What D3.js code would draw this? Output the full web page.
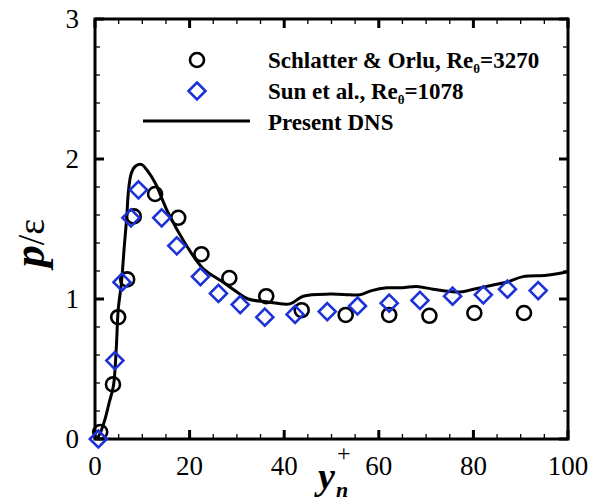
<!DOCTYPE html>
<html>
<head>
<meta charset="utf-8">
<script src="https://cdn.jsdelivr.net/npm/d3@7"></script>
<style>
  body { margin: 0; background: #fff; }
  svg text { font-family: "Liberation Serif", "Times New Roman", serif; }
</style>
</head>
<body>
<svg id="chart" width="606" height="502"></svg>
<script>
// Schlatter & Orlu, Re_theta = 3270 (circles)
var schlatterX = [1.1, 3.8, 4.9, 6.8, 8.2, 12.7, 17.6, 22.5, 28.4, 36.2, 43.7, 53.0, 62.2, 70.7, 80.2, 90.7];
var schlatterY = [0.05, 0.39, 0.87, 1.14, 1.59, 1.75, 1.58, 1.32, 1.15, 1.02, 0.92, 0.886, 0.886, 0.88, 0.90, 0.90];

// Sun et al., Re_theta = 1078 (diamonds)
var sunX = [0.7, 4.2, 5.7, 7.6, 9.2, 14.1, 17.3, 22.3, 26.1, 30.7, 35.9, 42.3, 49.1, 55.5, 62.2, 68.7, 75.6, 82.1, 87.2, 93.7];
var sunY = [0.0, 0.56, 1.12, 1.58, 1.78, 1.58, 1.38, 1.16, 1.04, 0.96, 0.87, 0.89, 0.91, 0.95, 0.97, 0.99, 1.02, 1.03, 1.07, 1.06];

// Present DNS (line)
var dnsX = [0.4, 1.2, 2.1, 3.0, 3.9, 4.5, 4.9, 5.6, 6.2, 6.7, 7.1, 7.7, 8.6, 9.9, 11.0, 12.7, 15.4, 19.0, 22.8, 27.1, 30.0, 32.4, 36.3, 41.2, 44.0, 49.7, 53.9, 56.0, 58.5, 61.7, 65.0, 68.0, 71.5, 77.2, 80.0, 84.2, 87.0, 90.5, 95.5, 100];
var dnsY = [0.0, 0.05, 0.14, 0.26, 0.38, 0.65, 0.92, 1.12, 1.38, 1.58, 1.78, 1.9, 1.95, 1.96, 1.92, 1.83, 1.62, 1.40, 1.22, 1.12, 1.05, 1.0, 0.98, 0.965, 1.02, 1.035, 1.03, 1.03, 1.06, 1.08, 1.08, 1.09, 1.07, 1.05, 1.07, 1.10, 1.12, 1.16, 1.17, 1.195];

var xTicks = [0, 20, 40, 60, 80, 100];
var yTicks = [0, 1, 2, 3];

var svg = d3.select('#chart');
var pl = 95, pr = 568, pt = 19, pb = 439;

var x = d3.scaleLinear().domain([0, 100]).range([pl, pr]);
var y = d3.scaleLinear().domain([0, 3]).range([pb, pt]);

var blue = '#1c32d8';

// ticks, all four sides, pointing inward
var g = svg.append('g');
var xMinor = d3.range(0, 101, 5).filter(d => d % 20 !== 0);
var yMinor = d3.range(0, 3.01, 0.2).filter(d => Math.abs(d - Math.round(d)) > 1e-6);

function tick(x1, y1, x2, y2, w) {
  g.append('line').attr('x1', x1).attr('y1', y1).attr('x2', x2).attr('y2', y2)
    .attr('stroke', '#000').attr('stroke-width', w);
}
xTicks.forEach(d => { tick(x(d), pb, x(d), pb - 9, 3); tick(x(d), pt, x(d), pt + 9, 3); });
xMinor.forEach(d => { tick(x(d), pb, x(d), pb - 5, 1.3); tick(x(d), pt, x(d), pt + 5, 1.3); });
yTicks.forEach(d => { tick(pl, y(d), pl + 9, y(d), 3); tick(pr, y(d), pr - 9, y(d), 3); });
yMinor.forEach(d => { tick(pl, y(d), pl + 5, y(d), 1.3); tick(pr, y(d), pr - 5, y(d), 1.3); });

// frame
svg.append('rect').attr('x', pl).attr('y', pt)
  .attr('width', pr - pl).attr('height', pb - pt)
  .attr('fill', 'none').attr('stroke', '#000').attr('stroke-width', 3);

// tick labels
svg.selectAll('.xl').data(xTicks).enter().append('text')
  .attr('x', d => x(d)).attr('y', pb + 36)
  .attr('text-anchor', 'middle').attr('font-size', 27).text(d => d);
svg.selectAll('.yl').data(yTicks).enter().append('text')
  .attr('x', pl - 16).attr('y', d => y(d) + 9)
  .attr('text-anchor', 'end').attr('font-size', 27).text(d => d);

// DNS line
var line = d3.line().x(d => x(d[0])).y(d => y(d[1])).curve(d3.curveCatmullRom);
svg.append('path').datum(d3.zip(dnsX, dnsY))
  .attr('d', line).attr('fill', 'none').attr('stroke', '#000').attr('stroke-width', 3);

// circles
svg.selectAll('.circ').data(d3.zip(schlatterX, schlatterY)).enter().append('circle')
  .attr('cx', d => x(d[0])).attr('cy', d => y(d[1])).attr('r', 7)
  .attr('fill', 'none').attr('stroke', '#000').attr('stroke-width', 2.6);

// diamonds
var dsz = 8.5;
function diamond(cx, cy) {
  return 'M' + cx + ',' + (cy - dsz) + 'L' + (cx + dsz) + ',' + cy + 'L' + cx + ',' + (cy + dsz) + 'L' + (cx - dsz) + ',' + cy + 'Z';
}
svg.selectAll('.dia').data(d3.zip(sunX, sunY)).enter().append('path')
  .attr('d', d => diamond(x(d[0]), y(d[1])))
  .attr('fill', 'none').attr('stroke', blue).attr('stroke-width', 2.6);

// legend
var lg = svg.append('g');
lg.append('circle').attr('cx', 197).attr('cy', 60).attr('r', 7)
  .attr('fill', 'none').attr('stroke', '#000').attr('stroke-width', 2.6);
lg.append('path').attr('d', diamond(197, 91))
  .attr('fill', 'none').attr('stroke', blue).attr('stroke-width', 2.6);
lg.append('line').attr('x1', 143).attr('x2', 250).attr('y1', 121).attr('y2', 121)
  .attr('stroke', '#000').attr('stroke-width', 3);

function legendText(yb, parts) {
  var t = lg.append('text').attr('x', 268).attr('y', yb)
    .attr('font-size', 23).attr('font-weight', 'bold');
  parts.forEach(p => {
    var s = t.append('tspan').text(p.t);
    if (p.sub) s.attr('font-size', 13).attr('dy', 5);
    if (p.up) s.attr('dy', -5);
  });
}
legendText(68, [{ t: 'Schlatter & Orlu, Re' }, { t: 'θ', sub: true }, { t: '=3270', up: true }]);
legendText(99, [{ t: 'Sun et al., Re' }, { t: 'θ', sub: true }, { t: '=1078', up: true }]);
legendText(130, [{ t: 'Present DNS' }]);

// y axis title
var yt = svg.append('text').attr('transform', 'translate(44,243) rotate(-90)')
  .attr('text-anchor', 'middle');
yt.append('tspan').text('p').attr('font-size', 44).attr('font-weight', 'bold').attr('font-style', 'italic');
yt.append('tspan').text('/ε').attr('font-size', 38);

// x axis title
svg.append('text').attr('x', 318).attr('y', 489).attr('font-size', 38)
  .attr('font-weight', 'bold').attr('font-style', 'italic').text('y');
svg.append('text').attr('x', 337).attr('y', 461).attr('font-size', 24).text('+');
svg.append('text').attr('x', 336).attr('y', 497).attr('font-size', 22)
  .attr('font-weight', 'bold').attr('font-style', 'italic').text('n');
</script>
</body>
</html>
